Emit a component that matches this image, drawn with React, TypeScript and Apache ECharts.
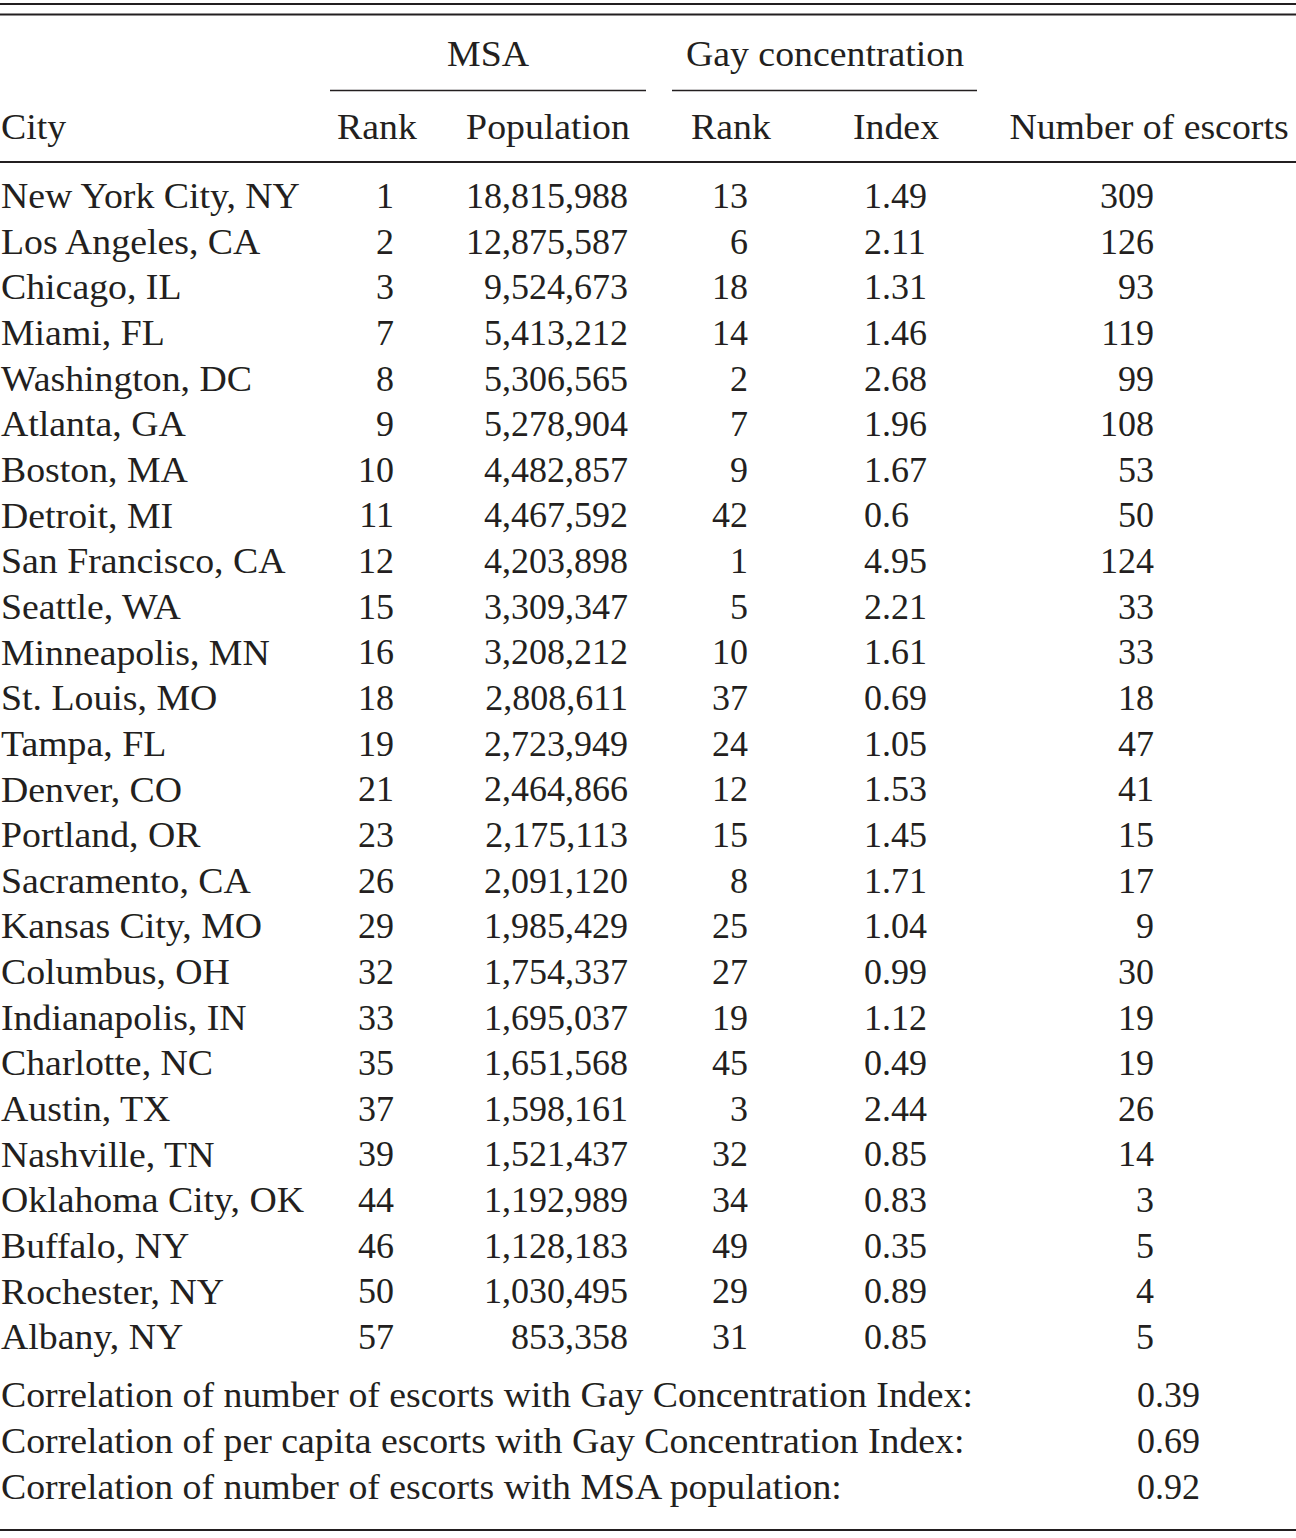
import React, { useEffect, useRef } from "react";
import * as echarts from "echarts";

const cities = [
  "New York City, NY", "Los Angeles, CA", "Chicago, IL", "Miami, FL", "Washington, DC",
  "Atlanta, GA", "Boston, MA", "Detroit, MI", "San Francisco, CA", "Seattle, WA",
  "Minneapolis, MN", "St. Louis, MO", "Tampa, FL", "Denver, CO", "Portland, OR",
  "Sacramento, CA", "Kansas City, MO", "Columbus, OH", "Indianapolis, IN", "Charlotte, NC",
  "Austin, TX", "Nashville, TN", "Oklahoma City, OK", "Buffalo, NY", "Rochester, NY", "Albany, NY",
];
const msaRank = [1, 2, 3, 7, 8, 9, 10, 11, 12, 15, 16, 18, 19, 21, 23, 26, 29, 32, 33, 35, 37, 39, 44, 46, 50, 57];
const msaPopulation = [
  18815988, 12875587, 9524673, 5413212, 5306565, 5278904, 4482857, 4467592, 4203898, 3309347,
  3208212, 2808611, 2723949, 2464866, 2175113, 2091120, 1985429, 1754337, 1695037, 1651568,
  1598161, 1521437, 1192989, 1128183, 1030495, 853358,
];
const gayRank = [13, 6, 18, 14, 2, 7, 9, 42, 1, 5, 10, 37, 24, 12, 15, 8, 25, 27, 19, 45, 3, 32, 34, 49, 29, 31];
const gayIndex = ["1.49", "2.11", "1.31", "1.46", "2.68", "1.96", "1.67", "0.6", "4.95", "2.21", "1.61", "0.69", "1.05", "1.53", "1.45", "1.71", "1.04", "0.99", "1.12", "0.49", "2.44", "0.85", "0.83", "0.35", "0.89", "0.85"];
const escorts = [309, 126, 93, 119, 99, 108, 53, 50, 124, 33, 33, 18, 47, 41, 15, 17, 9, 30, 19, 19, 26, 14, 3, 5, 4, 5];
const correlationLabels = [
  "Correlation of number of escorts with Gay Concentration Index:",
  "Correlation of per capita escorts with Gay Concentration Index:",
  "Correlation of number of escorts with MSA population:",
];
const correlationValues = ["0.39", "0.69", "0.92"];

const FONT_FAMILY = '"Liberation Serif", "DejaVu Serif", serif';
const FS = 36;
const INK = "#231f20";
const WORD_SCALE = 1.05;

function txt(text: string, x: number, y: number, align: string, sx = 1) {
  return {
    type: "text",
    x,
    y,
    scaleX: sx,
    silent: true,
    style: {
      text,
      fill: INK,
      font: `${FS}px ${FONT_FAMILY}`,
      align,
      verticalAlign: "middle",
      textAlign: align,
      textVerticalAlign: "middle",
    },
  };
}

function rule(x1: number, x2: number, y: number, w: number) {
  return {
    type: "line",
    silent: true,
    shape: { x1, y1: y, x2, y2: y },
    style: { stroke: INK, lineWidth: w },
  };
}

export default function App() {
  const ref = useRef<HTMLDivElement>(null);
  useEffect(() => {
    document.body.style.margin = "0";
    const chart = echarts.init(ref.current!, null, { renderer: "svg" });
    const els: any[] = [];
    // rules
    els.push(rule(0, 1296, 4, 2));
    els.push(rule(0, 1296, 14.5, 2));
    els.push(rule(330, 646, 90.5, 1.6));
    els.push(rule(672, 977, 90.5, 1.6));
    els.push(rule(0, 1296, 162, 2));
    els.push(rule(0, 1296, 1530, 2));
    // headers
    els.push(txt("MSA", 488, 54, "center", WORD_SCALE));
    els.push(txt("Gay concentration", 825, 54, "center", WORD_SCALE));
    els.push(txt("City", 1, 127, "left", WORD_SCALE));
    els.push(txt("Rank", 377, 127, "center", WORD_SCALE));
    els.push(txt("Population", 548, 127, "center", WORD_SCALE));
    els.push(txt("Rank", 731, 127, "center", WORD_SCALE));
    els.push(txt("Index", 896, 127, "center", WORD_SCALE));
    els.push(txt("Number of escorts", 1149, 127, "center", WORD_SCALE));
    // rows
    const y0 = 196;
    const dy = 45.64;
    cities.forEach((c, i) => {
      const y = y0 + dy * i;
      els.push(txt(c, 1, y, "left", WORD_SCALE));
      els.push(txt(String(msaRank[i]), 394, y, "right"));
      els.push(txt(msaPopulation[i].toLocaleString("en-US"), 628, y, "right"));
      els.push(txt(String(gayRank[i]), 748, y, "right"));
      els.push(txt(gayIndex[i], 864, y, "left"));
      els.push(txt(String(escorts[i]), 1154, y, "right"));
    });
    correlationLabels.forEach((l, i) => {
      const y = 1395 + 46 * i;
      els.push(txt(l, 1, y, "left", WORD_SCALE));
      els.push(txt(correlationValues[i], 1137, y, "left"));
    });
    chart.setOption({
      animation: false,
      backgroundColor: "#ffffff",
      graphic: { elements: els },
    });
    return () => chart.dispose();
  }, []);
  return <div ref={ref} style={{ width: 1296, height: 1538 }} />;
}
